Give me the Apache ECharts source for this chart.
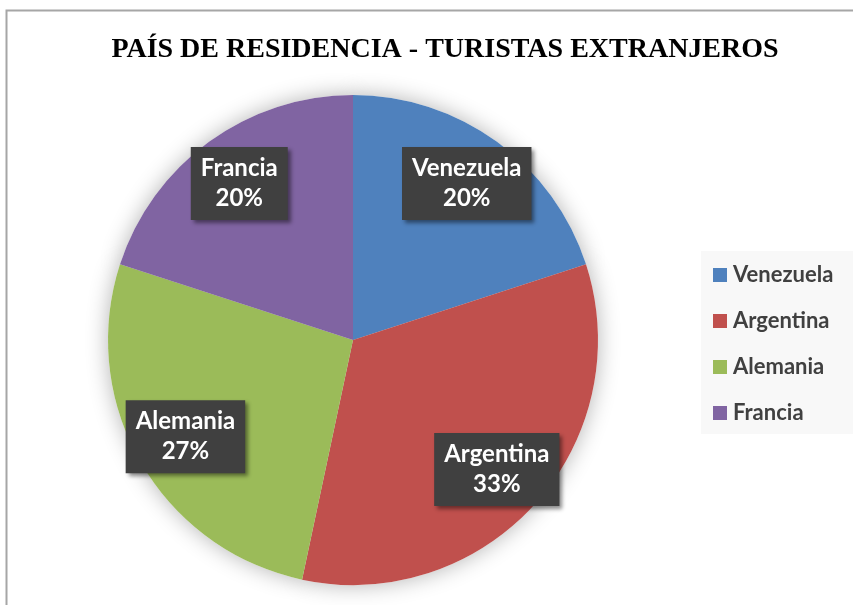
<!DOCTYPE html>
<html>
<head>
<meta charset="utf-8">
<script src="https://cdn.jsdelivr.net/npm/echarts@6/dist/echarts.min.js"></script>
<style>
html,body{margin:0;padding:0;background:#fff;}
#chart{width:853px;height:605px;}
</style>
</head>
<body>
<div id="chart"></div>
<script>
// Data
const titleText = 'PAÍS DE RESIDENCIA - TURISTAS EXTRANJEROS';
const countries = ['Venezuela', 'Argentina', 'Alemania', 'Francia'];
const counts = [3, 5, 4, 3];
const colors = ['#4F81BD', '#C0504D', '#9BBB59', '#8064A2'];

const chart = echarts.init(document.getElementById('chart'), null, {renderer: 'canvas'});

const pieData = countries.map((n, i) => ({name: n, value: counts[i], itemStyle: {color: colors[i]}}));
const center = [353, 340];
const R = 245;

const option = {
  backgroundColor: '#ffffff',
  animation: false,
  title: {
    text: titleText,
    left: 440,
    top: 31,
    textAlign: 'center',
    textStyle: {
      fontFamily: 'Liberation Serif',
      fontWeight: 'bold',
      fontSize: 28,
      color: '#000000'
    }
  },
  legend: {
    orient: 'vertical',
    left: 701,
    top: 251,
    padding: [13, 20, 10, 12],
    backgroundColor: '#f8f8f8',
    itemWidth: 14,
    itemHeight: 14,
    itemGap: 24,
    icon: 'rect',
    selectedMode: false,
    data: countries.map((n, i) => ({name: n, itemStyle: {color: colors[i]}})),
    textStyle: {
      fontFamily: 'Lato',
      fontWeight: 'bold',
      fontSize: 22,
      color: '#404040',
      padding: [0, 0, 0, 1]
    }
  },
  graphic: [{
    type: 'rect',
    silent: true,
    shape: {x: 6.5, y: 10.5, width: 900, height: 700},
    style: {fill: 'none', stroke: '#a6a6a6', lineWidth: 2},
    z: 100
  }],
  series: [
    {
      name: 'main',
      type: 'pie',
      center: center,
      radius: R,
      startAngle: 90,
      clockwise: true,
      z: 2,
      silent: true,
      label: {show: false},
      labelLine: {show: false},
      itemStyle: {borderWidth: 0},
      data: pieData
    },
    {
      name: 'shadow',
      type: 'pie',
      center: center,
      radius: R,
      startAngle: 90,
      clockwise: true,
      z: 1,
      silent: true,
      label: {show: false},
      labelLine: {show: false},
      itemStyle: {color: '#ffffff', shadowBlur: 22, shadowColor: 'rgba(0,0,0,0.3)'},
      data: countries.map((n, i) => ({name: n, value: counts[i]}))
    },
    {
      name: 'labels',
      type: 'pie',
      center: center,
      radius: [136, R],
      startAngle: 90,
      clockwise: true,
      z: 3,
      silent: true,
      itemStyle: {color: 'rgba(0,0,0,0)'},
      labelLine: {show: false},
      label: {
        show: true,
        position: 'inside',
        formatter: p => p.name + '\n' + Math.round(p.percent) + '%',
        fontFamily: 'Lato',
        fontWeight: 'bold',
        fontSize: 24,
        lineHeight: 30,
        color: '#ffffff',
        backgroundColor: '#404040',
        padding: [7, 10, 6, 10],
        shadowColor: 'rgba(0,0,0,0.45)',
        shadowBlur: 4,
        shadowOffsetX: 3,
        shadowOffsetY: 3
      },
      data: countries.map((n, i) => ({name: n, value: counts[i]}))
    }
  ]
};
chart.setOption(option);
</script>
</body>
</html>
